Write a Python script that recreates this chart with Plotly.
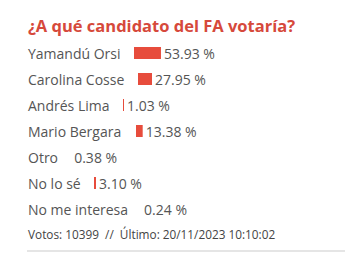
import plotly.graph_objects as go

# ---- data ----
categories = ["Yamandú Orsi", "Carolina Cosse", "Andrés Lima", "Mario Bergara",
              "Otro", "No lo sé", "No me interesa"]
percent = [53.93, 27.95, 1.03, 13.38, 0.38, 3.10, 0.24]
title_text = "¿A qué candidato del FA votaría?"
footer_text = "Votos: 10399  //  Último: 20/11/2023 10:10:02"

# ---- layout constants (pixels) ----
W, H = 345, 262
LEFT = 27
PX_PER_PCT = 0.5          # full 100 % bar = 50 px
bar_x0 = [134, 138, 123, 136, 71, 94, 141]   # bar starts right after each label
ROW0, ROW_STEP = 53, 26
BAR_H = 12

RED = "#e74c3c"
TITLE_RED = "#d6493b"
GREY = "#555555"
FONT = "Open Sans"

n = len(categories)
idx = list(range(n))
bar_len = [p * PX_PER_PCT for p in percent]
# sub-pixel bars are not visible in the original widget
bar_colors = [RED if L >= 0.4 else "rgba(0,0,0,0)" for L in bar_len]

fig = go.Figure()
fig.add_trace(go.Bar(
    y=idx,
    x=bar_len,
    base=bar_x0,
    orientation="h",
    width=BAR_H / ROW_STEP,
    marker=dict(color=bar_colors, line=dict(width=0)),
    text=[f"{p:.2f} %" for p in percent],
    textposition="outside",
    constraintext="none",
    cliponaxis=False,
    textfont=dict(family=FONT, size=14, color=GREY),
    outsidetextfont=dict(family=FONT, size=14, color=GREY),
    hoverinfo="skip",
))

# category labels, left aligned
for i, c in enumerate(categories):
    fig.add_annotation(x=LEFT - 1, y=i, text=c, xref="x", yref="y",
                       xanchor="left", yanchor="middle", showarrow=False,
                       font=dict(family=FONT, size=14, color=GREY))

y_of = lambda px: (px - ROW0) / ROW_STEP

fig.add_annotation(x=LEFT - 1, y=y_of(25), text=f"<b>{title_text}</b>", xref="x", yref="y",
                   xanchor="left", yanchor="middle", showarrow=False,
                   font=dict(family=FONT, size=16.5, color=TITLE_RED))
fig.add_annotation(x=LEFT - 1, y=y_of(234), text=footer_text, xref="x", yref="y",
                   xanchor="left", yanchor="middle", showarrow=False,
                   font=dict(family=FONT, size=11.8, color="#444444"))
fig.add_annotation(x=225, y=y_of(259), text="<b>¡RESULTADOS</b>", xref="x", yref="y",
                   xanchor="left", yanchor="top", showarrow=False,
                   font=dict(family=FONT, size=12, color=RED))

fig.add_shape(type="line", x0=LEFT, x1=W, y0=y_of(251), y1=y_of(251),
              xref="x", yref="y", line=dict(color="#dddddd", width=1.5))

fig.update_layout(
    width=W, height=H,
    margin=dict(l=0, r=0, t=0, b=0),
    paper_bgcolor="white", plot_bgcolor="white",
    showlegend=False,
    xaxis=dict(range=[0, W], visible=False, fixedrange=True),
    yaxis=dict(range=[y_of(H), y_of(0)], visible=False, fixedrange=True),
)

fig.write_html("out.html", config={"displayModeBar": False})
